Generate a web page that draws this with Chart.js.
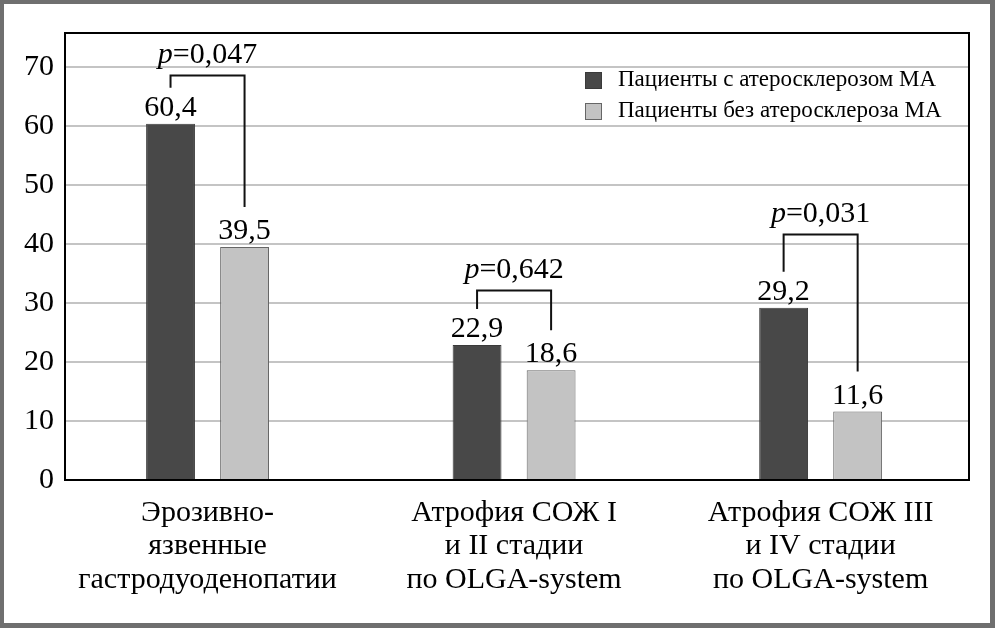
<!DOCTYPE html>
<html>
<head>
<meta charset="utf-8">
<script src="https://cdn.jsdelivr.net/npm/chart.js@4.4.1/dist/chart.umd.min.js"></script>
<style>
  html, body { margin: 0; padding: 0; background: #6f6f6f; }
  #wrap { position: absolute; left: 4px; top: 4px; width: 986px; height: 619px; background: #fff; }
</style>
</head>
<body>
<div id="wrap"><canvas id="barChart" width="986" height="619"></canvas></div>
<script>
// data
var categories = [
    ["Эрозивно-", "язвенные", "гастродуоденопатии"],
    ["Атрофия СОЖ I", "и II стадии", "по OLGA-system"],
    ["Атрофия СОЖ III", "и IV стадии", "по OLGA-system"]
];
var seriesNames = ["Пациенты с атеросклерозом МА", "Пациенты без атеросклероза МА"];
var withMA = [60.4, 22.9, 29.2];
var withoutMA = [39.5, 18.6, 11.6];
var pValues = ["0,047", "0,642", "0,031"];
var bracketLevels = [68.6, 32.2, 41.8];
var yTicks = [0, 10, 20, 30, 40, 50, 60, 70];

var FONT = "'Liberation Serif', 'Times New Roman', serif";
var darkColor = "#484848";
var lightColor = "#c3c3c3";

function fmt(v) {
    return v.toFixed(1).replace(".", ",");
}

// labels, brackets, legend, frame
var extras = {
    id: "extras",
    afterDatasetsDraw: function (chart) {
        var ctx = chart.ctx;
        var area = chart.chartArea;
        var yScale = chart.scales.y;
        var m0 = chart.getDatasetMeta(0);
        var m1 = chart.getDatasetMeta(1);
        ctx.save();

        // frame top + right
        ctx.strokeStyle = "#000";
        ctx.lineWidth = 2;
        ctx.beginPath();
        ctx.moveTo(area.left, area.top);
        ctx.lineTo(area.right, area.top);
        ctx.lineTo(area.right, area.bottom);
        ctx.stroke();

        // value labels
        ctx.fillStyle = "#000";
        ctx.font = "30px " + FONT;
        ctx.textAlign = "center";
        ctx.textBaseline = "alphabetic";
        [m0, m1].forEach(function (meta, d) {
            var vals = d === 0 ? withMA : withoutMA;
            meta.data.forEach(function (bar, i) {
                ctx.fillText(fmt(vals[i]), bar.x, bar.y - 8);
            });
        });

        // brackets with p values
        ctx.strokeStyle = "#111";
        ctx.lineWidth = 2;
        for (var i = 0; i < categories.length; i++) {
            var b0 = m0.data[i], b1 = m1.data[i];
            var yl = Math.round(yScale.getPixelForValue(bracketLevels[i])) + 0.5;
            ctx.beginPath();
            ctx.moveTo(b0.x, b0.y - 36);
            ctx.lineTo(b0.x, yl);
            ctx.lineTo(b1.x, yl);
            ctx.lineTo(b1.x, b1.y - 40);
            ctx.stroke();

            var cx = (b0.x + b1.x) / 2;
            var ty = yl - 13;
            ctx.font = "italic 30px " + FONT;
            var pw = ctx.measureText("p").width;
            ctx.font = "30px " + FONT;
            var rest = "=" + pValues[i];
            var rw = ctx.measureText(rest).width;
            var sx = cx - (pw + rw) / 2;
            ctx.textAlign = "left";
            ctx.font = "italic 30px " + FONT;
            ctx.fillText("p", sx, ty);
            ctx.font = "30px " + FONT;
            ctx.fillText(rest, sx + pw, ty);
        }

        // legend
        var lx = area.right - 384;
        var ly = area.top + 47;
        ctx.font = "23px " + FONT;
        ctx.textAlign = "left";
        ctx.textBaseline = "middle";
        chart.data.datasets.forEach(function (ds, k) {
            var y = ly + k * 31;
            ctx.fillStyle = ds.backgroundColor;
            ctx.fillRect(lx, y - 8, 17, 17);
            ctx.lineWidth = 1;
            ctx.strokeStyle = ds.borderColor;
            ctx.strokeRect(lx + 0.5, y - 7.5, 16, 16);
            ctx.fillStyle = "#000";
            ctx.fillText(ds.label, lx + 33, y);
        });
        ctx.restore();
    }
};

var ctx = document.getElementById("barChart").getContext("2d");

var myChart = new Chart(ctx, {
    type: "bar",
    data: {
        datasets: [
            {
                label: seriesNames[0],
                data: withMA.map(function (v, i) { return { x: i, y: v }; }),
                backgroundColor: darkColor,
                borderColor: "#3a3a3a",
                borderWidth: 1,
                categoryPercentage: 0.483,
                barPercentage: 0.66,
            },
            {
                label: seriesNames[1],
                data: withoutMA.map(function (v, i) { return { x: i, y: v }; }),
                backgroundColor: lightColor,
                borderColor: "#666666",
                borderWidth: 1,
                categoryPercentage: 0.483,
                barPercentage: 0.66,
            },
        ],
    },
    options: {
        responsive: false,
        animation: false,
        layout: {
            padding: { left: 0, right: 21, top: 28.5, bottom: 0 },
        },
        plugins: {
            legend: false,
            tooltip: false,
        },
        scales: {
            x: {
                type: "linear",
                min: -0.465,
                max: 2.484,
                offset: false,
                grid: { display: false },
                border: { display: true, color: "#000", width: 2 },
                afterBuildTicks: function (scale) {
                    scale.ticks = categories.map(function (c, i) { return { value: i }; });
                },
                afterFit: function (scale) {
                    scale.height = 143;
                },
                ticks: {
                    autoSkip: false,
                    maxRotation: 0,
                    padding: 8,
                    color: "#000",
                    font: { size: 30, family: FONT, lineHeight: 1.12 },
                    callback: function (value) {
                        return categories[value];
                    },
                },
            },
            y: {
                min: 0,
                max: 75.8,
                afterBuildTicks: function (scale) {
                    scale.ticks = yTicks.map(function (v) { return { value: v }; });
                },
                afterFit: function (scale) {
                    scale.width = 61;
                },
                grid: {
                    color: "#c4c4c4",
                    lineWidth: 2,
                    drawTicks: false,
                },
                border: { display: true, color: "#000", width: 2 },
                ticks: {
                    padding: 11,
                    color: "#000",
                    font: { size: 30, family: FONT },
                },
            },
        },
    },
    plugins: [extras],
});
</script>
</body>
</html>
